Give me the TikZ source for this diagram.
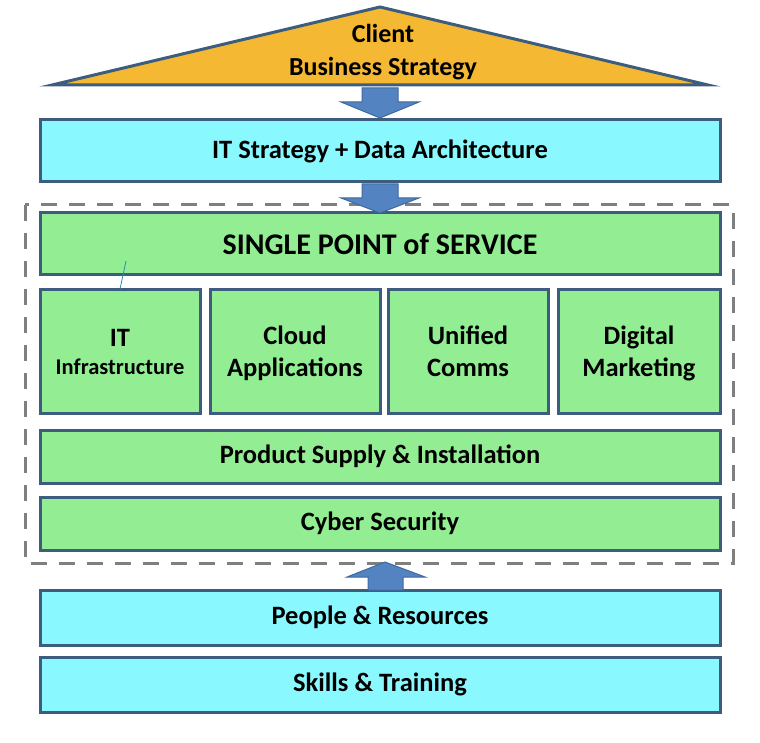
\documentclass[tikz,border=0pt]{standalone}
\usepackage{fontspec}
\setmainfont{Carlito}
\usepackage{tikz}

\definecolor{roofcol}{HTML}{F5B832}
\definecolor{cyancol}{HTML}{8AF8FF}
\definecolor{greencol}{HTML}{93EE93}
\definecolor{edgecol}{HTML}{3C5D7E}
\definecolor{arrowcol}{HTML}{5383C0}
\definecolor{arrowedge}{HTML}{3E69A0}
\definecolor{dashcol}{HTML}{7F7F7F}

\tikzset{
  panel/.style={draw=edgecol, line width=3pt, fill=greencol, align=center,
    inner sep=0pt, font=\bfseries\fontsize{26.5}{32}\selectfont},
  wide/.style={panel, minimum width=680pt},
  tile/.style={panel, minimum height=123pt},
  blockarrow/.style={fill=arrowcol, draw=arrowedge, line width=1pt, line join=miter},
}

\begin{document}
\begin{tikzpicture}[x=1pt,y=-1pt]
\useasboundingbox (0,0) rectangle (760,743);

% roof
\draw[draw=edgecol, line width=3pt, fill=roofcol, line join=miter]
  (52,85) -- (380,7) -- (708,85) -- cycle;
\node[font=\bfseries\fontsize{26}{33}\selectfont, align=center] (roof) at (383,52)
  {Client\\Business Strategy};

% strategy layer
\node[wide, fill=cyancol, minimum height=62pt] (itstrat) at (380,151)
  {IT Strategy + Data Architecture};

% service block
\draw[dashcol, line width=3pt, dash pattern=on 16pt off 12pt] (25,205) rectangle (733,563);
\node[wide, minimum height=62pt, font=\bfseries\fontsize{30}{36}\selectfont] (single) at (380,244)
  {SINGLE POINT of SERVICE};
\node[tile, minimum width=160pt] (infra) at (120,351.5)
  {IT\\[-4pt]{\fontsize{22.5}{28}\selectfont Infrastructure}};
\node[tile, minimum width=170pt] (cloud) at (295,351.5) {\strut Cloud\\Applications};
\node[tile, minimum width=160pt] (comms) at (468,351.5) {\strut Unified\\Comms\vphantom{p}};
\node[tile, minimum width=162pt] (market) at (639,351.5) {\strut Digital\\Marketing};
\node[wide, minimum height=53pt] (supply) at (380,456.5) {Product Supply \& Installation};
\node[wide, minimum height=53pt] (cyber) at (380,523.5) {Cyber Security};
\draw[edgecol!70!cyan, line width=0.8pt] (126,261) -- (120,289);

% resource layer
\node[wide, fill=cyancol, minimum height=55pt] (people) at (380,617.5) {People \& Resources};
\node[wide, fill=cyancol, minimum height=55pt] (skills) at (380,684.5) {Skills \& Training};

% block arrows
\draw[blockarrow] (362,88) -- (398,88) -- (398,102) -- (419,102) -- (380,118)
  -- (341,102) -- (362,102) -- cycle;
\draw[blockarrow] (362,184) -- (398,184) -- (398,198) -- (419,198) -- (380,213)
  -- (341,198) -- (362,198) -- cycle;
\draw[blockarrow] (368,590) -- (403,590) -- (403,577) -- (425,577) -- (385,562)
  -- (347,577) -- (368,577) -- cycle;
\end{tikzpicture}
\end{document}
